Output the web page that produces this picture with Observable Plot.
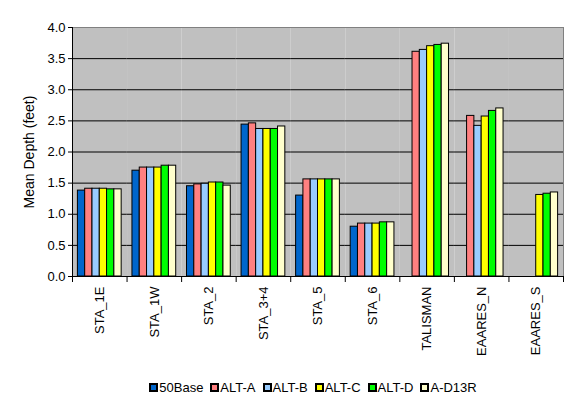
<!DOCTYPE html>
<html><head><meta charset="utf-8">
<script src="https://cdn.jsdelivr.net/npm/d3@7"></script>
<script src="https://cdn.jsdelivr.net/npm/@observablehq/plot@0.6"></script>
<style>
body{margin:0;background:#fff;font-family:"Liberation Sans",Arial,sans-serif;}
#chart{width:578px;height:398px;position:relative;overflow:hidden;}
#legend{position:absolute;left:72px;width:491px;top:371px;display:flex;justify-content:center;}
#legend .lg-swatch{margin-right:8px !important;}
#legend .lg-swatch > svg{margin-right:2px !important;}
#legend .lg-swatch svg rect{stroke:#000;stroke-width:2px;}
#plot g[aria-label="y-axis label"] text{font-size:14px;}
</style></head><body><div id="chart"><div id="plot"></div><div id="legend"></div></div>
<script>
const categories = ["STA_1E","STA_1W","STA_2","STA_3+4","STA_5","STA_6","TALISMAN","EAARES_N","EAARES_S"];
const seriesNames = ["50Base","ALT-A","ALT-B","ALT-C","ALT-D","A-D13R"];
const seriesColors = ["#0066CC","#FF8080","#99CCFF","#FFFF00","#00FF00","#FFFFCC"];
const base50 = [1.38,1.70,1.45,2.44,1.30,0.80,null,null,null];
const altA   = [1.41,1.75,1.48,2.46,1.56,0.85,3.61,2.58,null];
const altB   = [1.41,1.75,1.49,2.37,1.56,0.85,3.64,2.42,null];
const altC   = [1.41,1.75,1.51,2.37,1.56,0.85,3.70,2.57,1.31];
const altD   = [1.40,1.78,1.51,2.37,1.56,0.87,3.72,2.66,1.33];
const aD13R  = [1.40,1.78,1.46,2.41,1.56,0.87,3.74,2.70,1.35];
const yTicks = [0,0.5,1,1.5,2,2.5,3,3.5,4];

const seriesValues = [base50, altA, altB, altC, altD, aD13R];
const rows = [];
seriesNames.forEach((s, si) => categories.forEach((c, ci) => {
  const v = seriesValues[si][ci];
  if (v != null) rows.push({cat: c, series: s, value: v});
}));

const plotH = 364, mT = 27, mB = 88;
const innerH = plotH - mT - mB;

const plot = Plot.plot({
  width: 578, height: plotH,
  marginLeft: 72, marginRight: 15, marginTop: mT, marginBottom: mB,
  style: {fontFamily: "'Liberation Sans', Arial, sans-serif", fontSize: "13px", color: "black", background: "white", overflow: "visible"},
  fx: {domain: categories, paddingInner: 0, paddingOuter: 0, round: false, label: null},
  x: {domain: seriesNames, paddingInner: 0, paddingOuter: 0.74, round: false, axis: null},
  y: {domain: [0, 4]},
  color: {domain: seriesNames, range: seriesColors},
  marks: [
    Plot.frame({fill: "#C0C0C0"}),
    Plot.gridY(yTicks, {stroke: "black", strokeOpacity: 1}),
    Plot.frame({stroke: "#808080", anchor: "top"}),
    Plot.frame({stroke: "#808080", anchor: "right", facetAnchor: "right"}),
    Plot.barY(rows, {fx: "cat", x: "series", y: "value", fill: "series", stroke: "black", strokeWidth: 1}),
    Plot.frame({stroke: "black", anchor: "left", facetAnchor: "left"}),
    Plot.frame({stroke: "black", anchor: "bottom"}),
    Plot.frame({stroke: "black", anchor: "left", insetTop: innerH, insetBottom: -5}),
    Plot.frame({stroke: "black", anchor: "right", insetTop: innerH, insetBottom: -5, facetAnchor: "right"}),
    Plot.axisY(yTicks, {tickSize: 4, tickPadding: 3, tickFormat: d3.format(".1f"), fontSize: 13, label: "Mean Depth (feet)", labelAnchor: "center", labelArrow: "none", labelOffset: 48}),
    Plot.axisFx({anchor: "bottom", tickSize: 0, tickRotate: -90, tickPadding: 10, fontSize: 13, label: null})
  ]
});
document.getElementById("plot").append(plot);

const leg = Plot.legend({
  color: {domain: seriesNames, range: seriesColors},
  legend: "swatches", swatchSize: 7, className: "lg",
  style: {fontFamily: "'Liberation Sans', Arial, sans-serif", fontSize: "13px", color: "black"}
});
document.getElementById("legend").append(leg);
</script></body></html>
